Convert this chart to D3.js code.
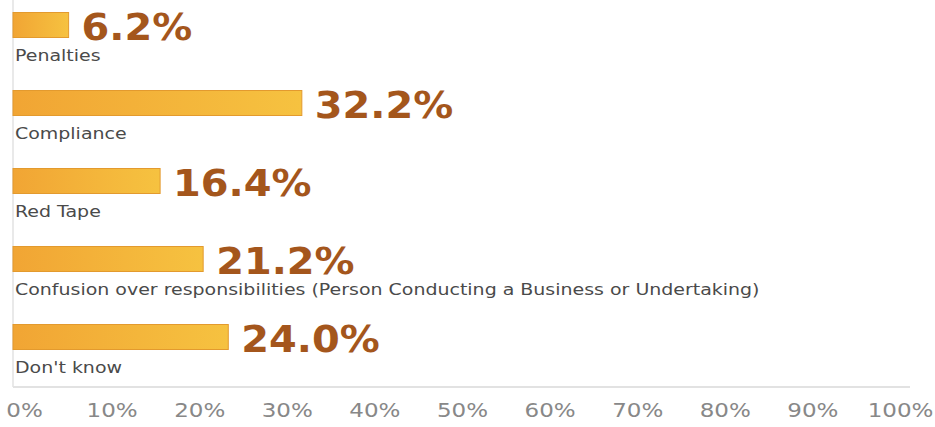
<!DOCTYPE html>
<html>
<head>
<meta charset="utf-8">
<script src="https://cdn.jsdelivr.net/npm/d3@7"></script>
<style>
  html, body { margin: 0; padding: 0; background: #fff; }
  svg { display: block; font-family: "DejaVu Sans", sans-serif; }
</style>
</head>
<body>
<svg id="chart" width="935" height="427"></svg>
<script>
// Survey answers and their shares (percent)
const categories = [
  "Penalties",
  "Compliance",
  "Red Tape",
  "Confusion over responsibilities (Person Conducting a Business or Undertaking)",
  "Don't know"
];
const values = [6.2, 32.2, 16.4, 21.2, 24.0];
const tickValues = [0, 10, 20, 30, 40, 50, 60, 70, 80, 90, 100];

const svg = d3.select("#chart");

const x = d3.scaleLinear().domain([0, 100]).range([13, 910]);
const y = d3.scaleBand().domain(categories).range([0, 390]).paddingInner(0).paddingOuter(0);
// tick labels are spread slightly inside the plot edges
const xLabel = d3.scaleLinear().domain([0, 100]).range([24, 900]);

const defs = svg.append("defs");
const grad = defs.append("linearGradient").attr("id", "barFill")
  .attr("x1", "0%").attr("x2", "100%").attr("y1", "0%").attr("y2", "0%");
grad.append("stop").attr("offset", "0%").attr("stop-color", "#f1a534");
grad.append("stop").attr("offset", "100%").attr("stop-color", "#f6c240");

// frame lines
svg.append("line")
  .attr("x1", x(0)).attr("x2", x(0)).attr("y1", 0).attr("y2", 387)
  .attr("stroke", "#e2e2e2").attr("stroke-width", 1.5);
svg.append("line")
  .attr("x1", x(0)).attr("x2", x(100)).attr("y1", 387).attr("y2", 387)
  .attr("stroke", "#e2e2e2").attr("stroke-width", 2);

const rows = svg.selectAll("g.row")
  .data(categories.map((c, i) => ({ cat: c, val: values[i] })))
  .enter().append("g").attr("class", "row")
  .attr("transform", d => `translate(0,${y(d.cat)})`);

rows.append("rect")
  .attr("x", x(0))
  .attr("y", 12.5)
  .attr("width", d => x(d.val) - x(0))
  .attr("height", 25)
  .attr("fill", "url(#barFill)")
  .attr("stroke", "#e39a2e")
  .attr("stroke-width", 1);

rows.append("text")
  .attr("transform", d => `translate(${x(d.val) + 13},40) scale(1.05,1)`)
  .attr("fill", "#a4561c")
  .attr("font-size", 38)
  .attr("font-weight", "bold")
  .text(d => d.val.toFixed(1) + "%");

rows.append("text")
  .attr("transform", "translate(15,61) scale(1.15,1)")
  .attr("fill", "#4a4a4a")
  .attr("font-size", 16.5)
  .text(d => d.cat);

// percentage axis labels
const axis = d3.axisBottom(xLabel)
  .tickValues(tickValues)
  .tickSize(0)
  .tickFormat(d => d + "%");
const ag = svg.append("g").attr("transform", "translate(0,400)").call(axis);
ag.select(".domain").remove();
ag.selectAll("text")
  .attr("fill", "#888")
  .attr("font-size", 20)
  .attr("font-family", "DejaVu Sans, sans-serif")
  .attr("transform", "scale(1.15,1)")
  .attr("dy", "0.71em");
</script>
</body>
</html>
